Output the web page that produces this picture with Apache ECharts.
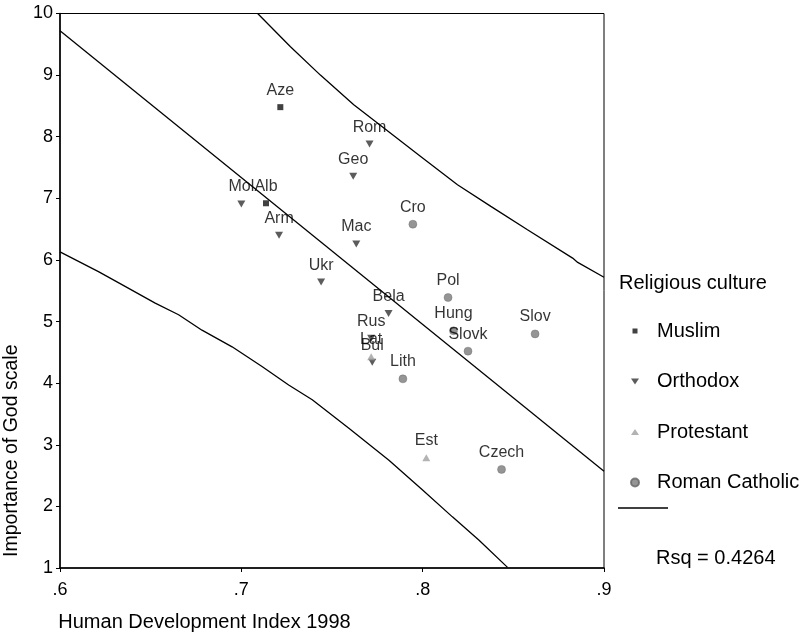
<!DOCTYPE html>
<html>
<head>
<meta charset="utf-8">
<script src="https://cdn.jsdelivr.net/npm/echarts@6/dist/echarts.min.js"></script>
<style>
html,body{margin:0;padding:0;background:#fff;}
#chart{width:807px;height:633px;}
</style>
</head>
<body>
<div id="chart"></div>
<script>
// ---- data ----
const muslimNames = ['Aze', 'Alb'];
const muslimHDI   = [0.7215, 0.7136];
const muslimGod   = [8.48, 6.92];

const orthodoxNames = ['Rom', 'Geo', 'Mol', 'Arm', 'Mac', 'Ukr', 'Bela', 'Rus', 'Bul'];
const orthodoxHDI   = [0.7707, 0.7617, 0.7000, 0.7208, 0.7634, 0.7440, 0.7812, 0.7716, 0.7722];
const orthodoxGod   = [7.88, 7.36, 6.91, 6.40, 6.26, 5.64, 5.13, 4.73, 4.34];

const protestantNames = ['Lat', 'Est'];
const protestantHDI   = [0.7716, 0.8020];
const protestantGod   = [4.43, 2.79];

const catholicNames = ['Cro', 'Pol', 'Hung', 'Slov', 'Slovk', 'Lith', 'Czech'];
const catholicHDI   = [0.7946, 0.8140, 0.8170, 0.8620, 0.8250, 0.7891, 0.8435];
const catholicGod   = [6.58, 5.39, 4.85, 4.80, 4.52, 4.07, 2.60];

const fitHDI = [0.6, 0.9];
const fitGod = [9.72, 2.57];

const upperHDI = [0.709, 0.7271, 0.7436, 0.7620, 0.7786, 0.7989, 0.8192, 0.8376, 0.8578, 0.8827, 0.8855, 0.9];
const upperGod = [10.0, 9.46, 9.00, 8.52, 8.14, 7.68, 7.22, 6.87, 6.49, 6.03, 5.96, 5.72];

const lowerHDI = [0.6, 0.6212, 0.6359, 0.6525, 0.6654, 0.6783, 0.6949, 0.7114, 0.7261, 0.7391, 0.7593, 0.7814, 0.7998, 0.8164, 0.8311, 0.8468];
const lowerGod = [6.13, 5.81, 5.57, 5.30, 5.11, 4.86, 4.59, 4.27, 3.97, 3.73, 3.27, 2.75, 2.27, 1.83, 1.45, 1.01];

const xTicks = [0.6, 0.7, 0.8, 0.9];
const yTicks = [1, 2, 3, 4, 5, 6, 7, 8, 9, 10];

const legendTitle = 'Religious culture';
const rsqText = 'Rsq = 0.4264';

// ---- build ----
const FONT = "'Liberation Sans', Arial, Helvetica, sans-serif";
function pts(names, xs, ys) {
  return names.map((n, i) => ({ name: n, value: [xs[i], ys[i]] }));
}
function linePts(xs, ys) { return xs.map((x, i) => [x, ys[i]]); }

const labelStyle = {
  show: true, position: 'inside', offset: [0, -17],
  formatter: '{b}', color: '#000', fontSize: 16, fontFamily: FONT
};
const downTri = 'path://M0,0L10,0L5,8.5Z';
// legend icons: drawn in a 21x8 box so the text sits further right of the small marker
const PAD = 'path://M0,0M21,8';
const legendIcons = {
  'Muslim': PAD + 'M1.5,1.5L6.5,1.5L6.5,6.5L1.5,6.5Z',
  'Orthodox': PAD + 'M0,1L8,1L4,7Z',
  'Protestant': PAD + 'M4,1L8,7L0,7Z',
  'Roman Catholic': PAD + 'M0,4A4,4,0,1,0,8,4A4,4,0,1,0,0,4Z'
};

const chart = echarts.init(document.getElementById('chart'), null, { renderer: 'canvas' });
chart.setOption({
  animation: false,
  backgroundColor: '#fff',
  textStyle: { fontFamily: FONT },
  title: [
    { text: legendTitle, left: 614, top: 268,
      textStyle: { fontSize: 20, fontWeight: 'normal', color: '#000', fontFamily: FONT } },
    { text: rsqText, left: 651, top: 543,
      textStyle: { fontSize: 20, fontWeight: 'normal', color: '#000', fontFamily: FONT } }
  ],
  legend: {
    orient: 'vertical', left: 630, top: 321, padding: 0,
    itemWidth: 21, itemHeight: 8, itemGap: 30.5,
    selectedMode: false,
    textStyle: { fontSize: 20, color: '#000', lineHeight: 20, fontFamily: FONT },
    data: Object.keys(legendIcons).map(n => ({ name: n, icon: legendIcons[n] }))
  },
  graphic: [
    { type: 'line', shape: { x1: 618, y1: 508, x2: 668, y2: 508 },
      style: { stroke: '#000', lineWidth: 1.3 } }
  ],
  grid: { left: 60, right: 203, top: 13.5, bottom: 65, show: true,
          borderColor: '#000', borderWidth: 1, backgroundColor: 'transparent',
          containLabel: false, outerBoundsMode: 'none' },
  xAxis: {
    type: 'value', min: xTicks[0], max: xTicks[xTicks.length - 1], interval: 0.1,
    name: 'Human Development Index 1998', nameLocation: 'middle', nameGap: 44,
    nameTextStyle: { fontSize: 20, color: '#000', padding: [0, 255, 0, 0], fontFamily: FONT },
    axisLine: { show: true, lineStyle: { color: '#000', width: 1.5 } },
    axisTick: { show: true, length: 4, lineStyle: { color: '#000' } },
    axisLabel: { fontSize: 18, color: '#000', margin: 13, fontFamily: FONT,
      formatter: v => v.toFixed(1).replace(/^0/, '') },
    splitLine: { show: false }
  },
  yAxis: {
    type: 'value', min: yTicks[0], max: yTicks[yTicks.length - 1], interval: 1,
    name: 'Importance of God scale', nameLocation: 'middle', nameGap: 38, nameRotate: 90,
    nameTextStyle: { fontSize: 19.5, color: '#000', padding: [0, 320, 0, 0], fontFamily: FONT },
    axisLine: { show: true, lineStyle: { color: '#000', width: 1.5 } },
    axisTick: { show: true, length: 4, lineStyle: { color: '#000' } },
    axisLabel: { fontSize: 18, color: '#000', margin: 7, fontFamily: FONT },
    splitLine: { show: false }
  },
  series: [
    { name: 'Fit', type: 'line', data: linePts(fitHDI, fitGod), symbol: 'none',
      lineStyle: { color: '#000', width: 1.3 }, z: 1, silent: true },
    { name: 'Upper', type: 'line', data: linePts(upperHDI, upperGod), symbol: 'none',
      lineStyle: { color: '#000', width: 1.3 }, z: 1, silent: true },
    { name: 'Lower', type: 'line', data: linePts(lowerHDI, lowerGod), symbol: 'none',
      lineStyle: { color: '#000', width: 1.3 }, z: 1, silent: true },
    { name: 'Muslim', type: 'scatter', data: pts(muslimNames, muslimHDI, muslimGod),
      symbol: 'rect', symbolSize: 6, itemStyle: { color: '#111' }, label: labelStyle, z: 3 },
    { name: 'Orthodox', type: 'scatter', data: pts(orthodoxNames, orthodoxHDI, orthodoxGod),
      symbol: downTri, symbolSize: [8, 7], itemStyle: { color: '#333' }, label: labelStyle, z: 3 },
    { name: 'Protestant', type: 'scatter', data: pts(protestantNames, protestantHDI, protestantGod),
      symbol: 'path://M5,0L10,8L0,8Z', symbolSize: [8, 7], itemStyle: { color: '#a0a0a0' }, label: labelStyle, z: 3 },
    { name: 'Roman Catholic', type: 'scatter', data: pts(catholicNames, catholicHDI, catholicGod),
      symbol: 'circle', symbolSize: 8, itemStyle: { color: '#7a7a7a', borderColor: '#666', borderWidth: 0.5 }, label: labelStyle, z: 3 }
  ]
});
</script>
</body>
</html>
